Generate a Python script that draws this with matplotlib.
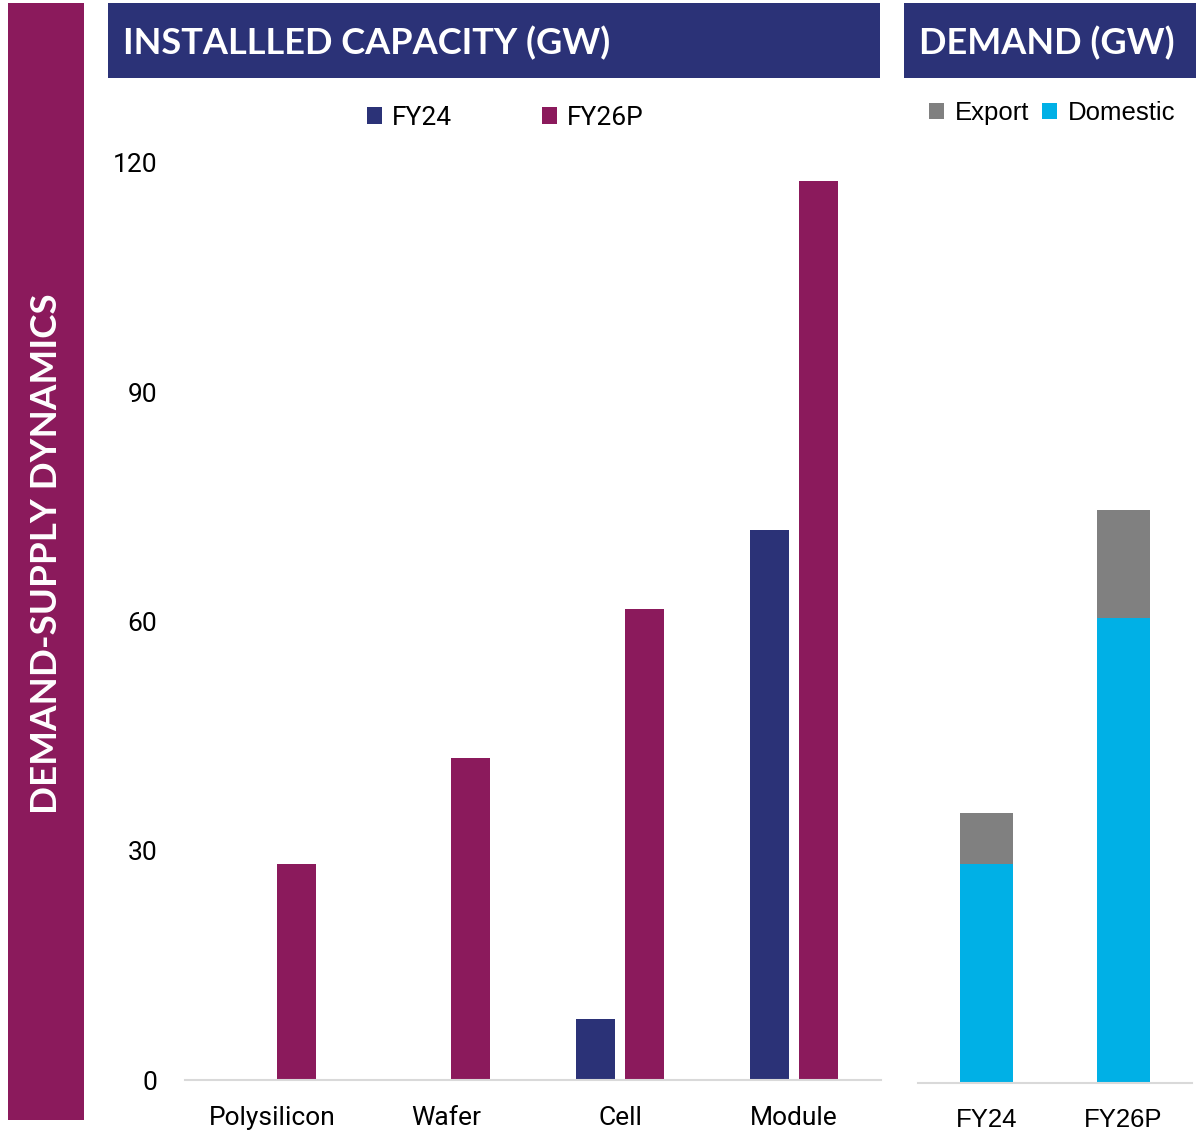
import matplotlib
matplotlib.use("Agg")
import matplotlib.pyplot as plt
from matplotlib.patches import Rectangle
import numpy as np

# ---- data ----
categories = ["Polysilicon", "Wafer", "Cell", "Module"]
fy24 = [0, 0, 8, 72]
fy26p = [28.3, 42.1, 61.6, 117.7]
yticks = [0, 30, 60, 90, 120]

demand_cats = ["FY24", "FY26P"]
domestic = [28.7, 60.8]
export = [6.6, 14.2]

NAVY = "#2B3277"
PURPLE = "#8B1A5C"
CYAN = "#00B0E6"
GREY = "#808080"

W, H = 1196, 1135
fig = plt.figure(figsize=(W / 100, H / 100), dpi=100)

def px(x0, y0, x1, y1):
    return [x0 / W, 1 - y1 / H, (x1 - x0) / W, (y1 - y0) / H]

# background decorations
bg = fig.add_axes([0, 0, 1, 1])
bg.set_xlim(0, W); bg.set_ylim(H, 0); bg.axis("off")
bg.add_patch(Rectangle((8, 3), 76, 1117, color=PURPLE, lw=0))
bg.add_patch(Rectangle((108, 3), 772, 75, color=NAVY, lw=0))
bg.add_patch(Rectangle((904, 3), 292, 75, color=NAVY, lw=0))
bg.text(47, 554, "DEMAND-SUPPLY DYNAMICS", rotation=90, ha="center", va="center",
        color="white", fontsize=26.5, fontweight="bold", family="Lato")
bg.text(123, 43, "INSTALLLED CAPACITY (GW)", ha="left", va="center",
        color="white", fontsize=26, fontweight="bold", family="Lato")
bg.text(919, 43, "DEMAND (GW)", ha="left", va="center",
        color="white", fontsize=26, fontweight="bold", family="Lato")

# ---- left chart ----
ymax = 122
ax = fig.add_axes(px(185, 1080 - ymax * 917 / 120, 881, 1080))
x = np.arange(len(categories))
bw = 0.224
off = 0.141
ax.bar(x - off, fy24, bw, color=NAVY, label="FY24")
ax.bar(x + off, fy26p, bw, color=PURPLE, label="FY26P")
ax.set_xlim(-0.5, len(categories) - 0.5)
ax.set_ylim(0, ymax)
ax.set_yticks(yticks)
ax.set_xticks(x)
ax.set_xticklabels(categories, family="Roboto", fontsize=19)
for t in ax.get_yticklabels():
    t.set_family("Roboto"); t.set_fontsize(19)
ax.tick_params(axis="both", length=0)
ax.tick_params(axis="x", pad=19)
ax.tick_params(axis="y", pad=20)
for s in ["top", "right", "left"]:
    ax.spines[s].set_visible(False)
ax.spines["bottom"].set_color("#D9D9D9")
ax.spines["bottom"].set_linewidth(1.5)
leg = ax.legend(loc="center", bbox_to_anchor=((505 - 185) / 696, (1080 - 118) / (ymax * 917 / 120)),
                ncol=2, frameon=False, prop={"family": "Roboto", "size": 19},
                handlelength=0.6, handleheight=0.6, handletextpad=0.35, columnspacing=3.4)

# ---- right chart ----
ax2 = fig.add_axes(px(918, 1083 - ymax * 917 / 120, 1192, 1083))
x2 = np.arange(len(demand_cats))
bw2 = 0.39
ax2.bar(x2, domestic, bw2, color=CYAN, label="Domestic")
ax2.bar(x2, export, bw2, bottom=domestic, color=GREY, label="Export")
ax2.set_xlim(-0.5, len(demand_cats) - 0.5)
ax2.set_ylim(0, ymax)
ax2.set_yticks([])
ax2.set_xticks(x2)
ax2.set_xticklabels(demand_cats, family="Liberation Sans", fontsize=18.5)
ax2.tick_params(axis="x", length=0, pad=18)
for s in ["top", "right", "left"]:
    ax2.spines[s].set_visible(False)
ax2.spines["bottom"].set_color("#D9D9D9")
ax2.spines["bottom"].set_linewidth(1.5)
h, l = ax2.get_legend_handles_labels()
ax2.legend(h[::-1], l[::-1], loc="center",
           bbox_to_anchor=((1052 - 918) / 274, (1083 - 113) / (ymax * 917 / 120)),
           ncol=2, frameon=False, prop={"family": "Liberation Sans", "size": 18.5},
           handlelength=0.6, handleheight=0.6, handletextpad=0.4, columnspacing=0.5)

fig.savefig("out.png", dpi=100)
